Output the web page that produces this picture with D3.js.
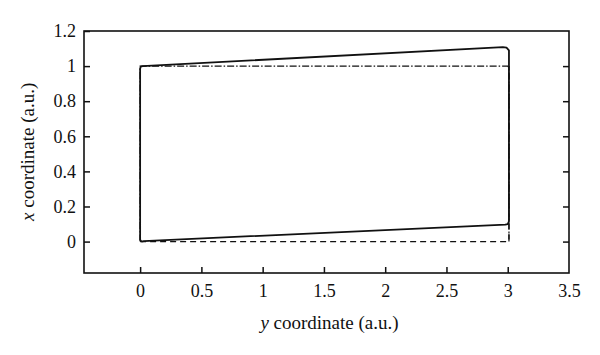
<!DOCTYPE html>
<html>
<head>
<meta charset="utf-8">
<script src="https://cdn.jsdelivr.net/npm/d3@7"></script>
<style>
  body { margin: 0; background: #fff; }
  svg text { font-family: "Liberation Serif", "Times New Roman", serif; }
</style>
</head>
<body>
<div id="chart-area"></div>
<script>
// tick values
const xTicks = [0, 0.5, 1, 1.5, 2, 2.5, 3, 3.5];
const yTicks = [0, 0.2, 0.4, 0.6, 0.8, 1, 1.2];

// solid curve (deformed shape)
const solidX = [0.01, 0.0, 0.0, 0.005, 0.02, 2.96, 2.99, 3.01, 3.01, 3.0, 2.98, 0.03, 0.01];
const solidY = [0.0, 0.01, 0.985, 0.997, 1.0, 1.108, 1.105, 1.09, 0.115, 0.1, 0.097, 0.003, 0.0];

// dashed curve (bottom / right)
const dashX = [0, 3, 3.01, 3.01];
const dashY = [0, 0, 0.01, 1];

// dash-dot curve (top / right)
const dotX = [0, 0.0, 3, 3.01, 3.01];
const dotY = [0, 1, 1, 0.99, 0];

const W = 600, H = 355;
const margin = {top: 31, right: 31, bottom: 82, left: 84};
const width = W - margin.left - margin.right;
const height = H - margin.top - margin.bottom;

const svg = d3.select("#chart-area").append("svg")
    .attr("width", W)
    .attr("height", H)
    .append("g")
    .attr("transform", "translate(" + margin.left + "," + margin.top + ")");

const x = d3.scaleLinear().domain([-0.458, 3.5]).range([0, width]);
const y = d3.scaleLinear().domain([-0.179, 1.2]).range([height, 0]);

const fmt = d => String(+d.toFixed(1));

// bottom axis, ticks pointing in
const xAxis = d3.axisBottom(x).tickValues(xTicks).tickSizeInner(-6).tickSizeOuter(0)
    .tickPadding(11).tickFormat(fmt);
const gx = svg.append("g").attr("transform", "translate(0," + height + ")").call(xAxis);

const yAxis = d3.axisLeft(y).tickValues(yTicks).tickSizeInner(-6).tickSizeOuter(0)
    .tickPadding(8).tickFormat(fmt);
const gy = svg.append("g").call(yAxis);

// right side mirror ticks
const yAxisR = d3.axisRight(y).tickValues(yTicks.slice(0, 6)).tickSizeInner(-6).tickSizeOuter(0)
    .tickFormat("");
const gr = svg.append("g").attr("transform", "translate(" + width + ",0)").call(yAxisR);

[gx, gy, gr].forEach(g => {
    g.attr("font-family", null).attr("font-size", null);
    g.select(".domain").remove();
    g.selectAll("line").attr("stroke", "#111").attr("stroke-width", 1.5);
    g.selectAll("text").style("font-size", "18px").attr("fill", "#111");
});
// no tick on the right edge of the frame
gx.selectAll(".tick").filter(d => d === 3.5).select("line").remove();

// frame
svg.append("rect")
    .attr("width", width).attr("height", height)
    .attr("fill", "none").attr("stroke", "#111").attr("stroke-width", 1.6);

const line = d3.line().x(d => x(d[0])).y(d => y(d[1]));

svg.append("path")
    .datum(dashX.map((v, i) => [v, dashY[i]]))
    .attr("d", line).attr("fill", "none")
    .attr("stroke", "#111").attr("stroke-width", 1.3)
    .attr("stroke-dasharray", "6,4");

svg.append("path")
    .datum(dotX.map((v, i) => [v, dotY[i]]))
    .attr("d", line).attr("fill", "none")
    .attr("stroke", "#111").attr("stroke-width", 1.2)
    .attr("stroke-dasharray", "7,2,1.5,2");

svg.append("path")
    .datum(solidX.map((v, i) => [v, solidY[i]]))
    .attr("d", line)
    .attr("fill", "none")
    .attr("stroke", "#111").attr("stroke-width", 1.8)
    .attr("stroke-linejoin", "round");

// axis titles
const xl = svg.append("text")
    .attr("x", width / 2 + 3).attr("y", height + 56)
    .attr("text-anchor", "middle")
    .style("font-size", "19px").attr("fill", "#111");
xl.append("tspan").style("font-style", "italic").text("y");
xl.append("tspan").text(" coordinate (a.u.)");

const yl = svg.append("text")
    .attr("transform", "translate(" + (-50) + "," + (y(0.5) - 2) + ") rotate(-90)")
    .attr("text-anchor", "middle")
    .style("font-size", "19px").attr("fill", "#111");
yl.append("tspan").style("font-style", "italic").text("x");
yl.append("tspan").text(" coordinate (a.u.)");
</script>
</body>
</html>
